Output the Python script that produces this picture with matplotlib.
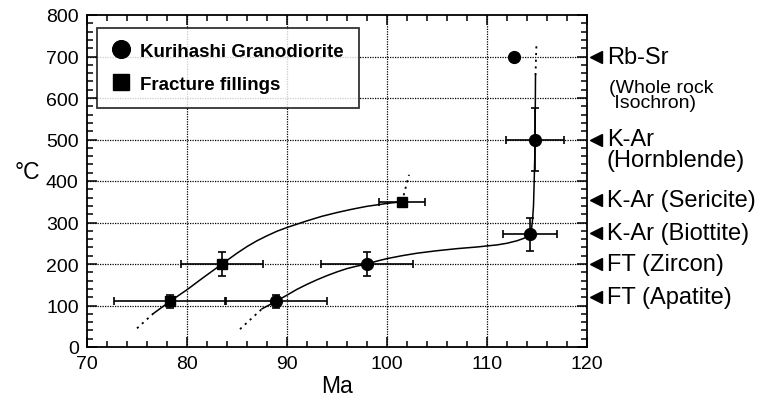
import matplotlib
matplotlib.use("Agg")
import matplotlib.pyplot as plt
import matplotlib.transforms as mtransforms

plt.rcParams['font.family'] = ['Liberation Sans', 'DejaVu Sans']

# Kurihashi Granodiorite (circles)
gd_age = [112.7, 114.8, 114.3, 98.0, 88.9]
gd_temp = [700, 500, 272, 200, 110]
gd_age_err = [0, 2.9, 2.7, 4.6, 5.1]
gd_temp_err = [0, 75, 40, 30, 15]

# Fracture fillings (squares)
ff_age = [78.3, 83.5, 101.5]
ff_temp = [110, 200, 350]
ff_age_err = [5.6, 4.1, 2.3]
ff_temp_err = [15, 30, 0]

# cooling curves
ff_curve_x = [76.6, 78.3, 80.0, 81.5, 83.5, 85.0, 86.0, 87.0, 88.0, 89.0, 90.0, 91.0,
              92.0, 93.5, 95.0, 96.5, 98.0, 100.0, 101.5]
ff_curve_y = [80, 110, 138, 165, 200, 226, 242, 256, 268, 279, 288, 296,
              304, 315, 324, 332, 339, 346, 350]
ff_low_x = [75.0, 76.6]
ff_low_y = [45, 80]
ff_high_x = [101.5, 102.2]
ff_high_y = [350, 415]

gd_curve_x = [87.5, 88.9, 90.0, 91.0, 92.0, 93.0, 94.0, 95.0, 96.0, 97.0, 98.0, 99.0,
              100.0, 101.5, 103.0, 105.0, 107.0, 109.0, 111.0, 112.0, 113.0, 113.7,
              114.1, 114.3, 114.45, 114.55, 114.65, 114.72, 114.78, 114.8, 114.83, 114.85]
gd_curve_y = [92, 110, 125, 139, 151, 162, 172, 181, 189, 195, 200, 207,
              213, 220, 226, 232, 237, 241, 246, 250, 256, 262,
              268, 272, 285, 305, 340, 400, 460, 500, 580, 655]
gd_low_x = [85.3, 87.5]
gd_low_y = [43, 92]
gd_high_x = [114.85, 114.95]
gd_high_y = [655, 735]

# closure temperature labels on the right
lab_temp = [700, 500, 355, 275, 200, 120]
lab_text = ['Rb-Sr', 'K-Ar', 'K-Ar (Sericite)', 'K-Ar (Biottite)', 'FT (Zircon)', 'FT (Apatite)']

fig = plt.figure(figsize=(7.72, 4.02), dpi=100)
ax = fig.add_axes([87/772, 54/402, 500/772, 332/402])

ax.set_xlim(70, 120)
ax.set_ylim(0, 800)
ax.set_xticks([70, 80, 90, 100, 110, 120])
ax.set_yticks(range(0, 900, 100))
ax.set_xticks(range(70, 121, 2), minor=True)
ax.set_yticks(range(0, 801, 20), minor=True)
ax.tick_params(which='both', direction='in', top=True, right=True, width=1.1)
ax.tick_params(which='major', length=7, labelsize=14, pad=6)
ax.tick_params(which='minor', length=4.5)
for s in ax.spines.values():
    s.set_linewidth(1.3)

for v in [80, 90, 100, 110]:
    ax.axvline(v, color='k', lw=0.9, ls=(0, (1, 1)), zorder=0)
for v in range(100, 800, 100):
    ax.axhline(v, color='k', lw=0.9, ls=(0, (1, 1)), zorder=0)

# curves
dot = (0, (1.2, 2.5))
ax.plot(ff_curve_x, ff_curve_y, color='k', lw=1.1)
ax.plot(ff_low_x, ff_low_y, color='k', lw=1.3, ls=dot)
ax.plot(ff_high_x, ff_high_y, color='k', lw=1.3, ls=dot)
ax.plot(gd_curve_x, gd_curve_y, color='k', lw=1.1)
ax.plot(gd_low_x, gd_low_y, color='k', lw=1.3, ls=dot)
ax.plot(gd_high_x, gd_high_y, color='k', lw=1.3, ls=dot)

ax.errorbar(gd_age, gd_temp, xerr=gd_age_err, yerr=gd_temp_err, fmt='o', color='k',
            ms=8.5, elinewidth=1.2, capsize=3, capthick=1.2, label='Kurihashi Granodiorite', zorder=3)
ax.errorbar(ff_age, ff_temp, xerr=ff_age_err, yerr=ff_temp_err, fmt='s', color='k',
            ms=7.5, elinewidth=1.2, capsize=3, capthick=1.2, label='Fracture fillings', zorder=3)

h, l = ax.get_legend_handles_labels()
leg = ax.legend([x[0] for x in h], l, loc='upper left', bbox_to_anchor=(0.02, 0.962),
                borderaxespad=0, frameon=True, fancybox=False, edgecolor='k',
                prop={'weight': 'bold', 'size': 13.5}, markerscale=1.5,
                handlelength=1.0, handletextpad=0.5, labelspacing=0.85, borderpad=0.8)
leg.get_frame().set_linewidth(1.3)
leg.set_zorder(5)

ax.set_xlabel('Ma', fontsize=16.5, labelpad=1)
ax.set_ylabel('°C', fontsize=16.5, rotation=0, va='center')
ax.yaxis.set_label_coords(-0.12, 0.53)

trans = mtransforms.blended_transform_factory(ax.transAxes, ax.transData)
ax.plot([1.018] * len(lab_temp), lab_temp, marker='<', ls='none', color='k', ms=8.5,
        transform=trans, clip_on=False)
for t, s in zip(lab_temp, lab_text):
    ax.text(1.04, t, s, transform=trans, fontsize=17, va='center', ha='left')
ax.annotate('(Whole rock\n Isochron)', xy=(1.044, 700), xycoords=trans, xytext=(0, -16),
            textcoords='offset points', fontsize=14, va='top', ha='left', linespacing=0.9)
ax.annotate('(Hornblende)', xy=(1.04, 500), xycoords=trans, xytext=(0, -14.5),
            textcoords='offset points', fontsize=17, va='center', ha='left')

fig.savefig('out.png', dpi=100)
